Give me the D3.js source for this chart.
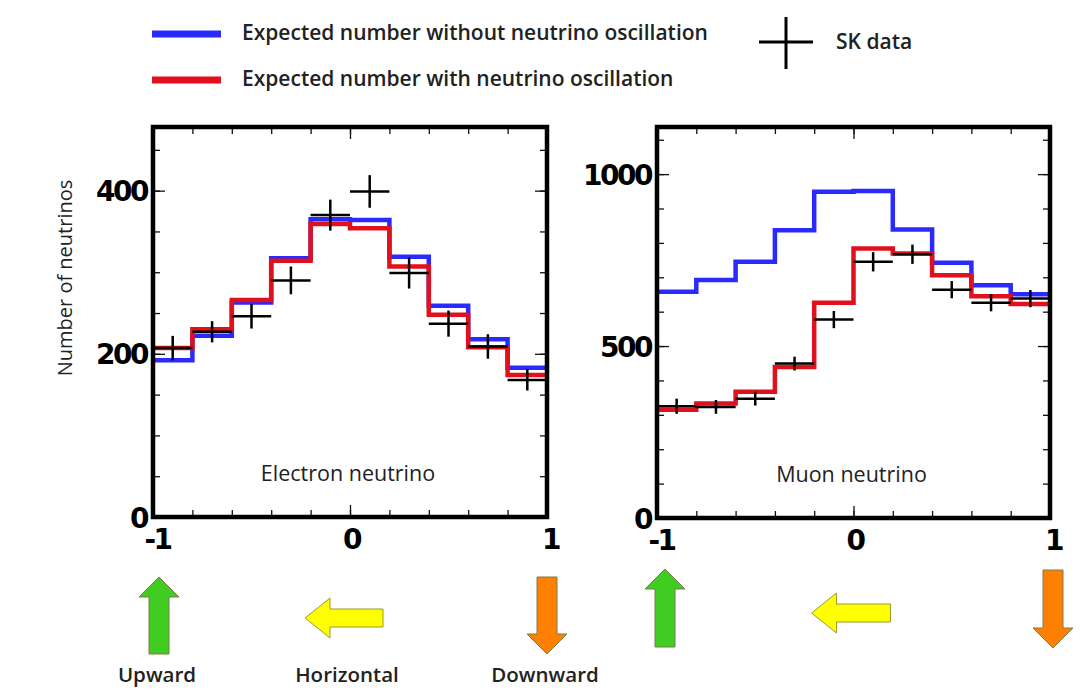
<!DOCTYPE html>
<html>
<head>
<meta charset="utf-8">
<script src="https://cdn.jsdelivr.net/npm/d3@7/dist/d3.min.js"></script>
<style>
  body { margin: 0; background: #fff; }
  svg { display: block; }
  .lbl { font-family: "Open Sans", "Noto Sans", sans-serif; fill: #222; }
  .tk text { font-family: "DejaVu Sans", sans-serif; font-weight: bold; font-size: 28px; letter-spacing: -2.5px; fill: #000; }
</style>
</head>
<body>
<svg id="chart" width="1086" height="689"></svg>
<script>
// bin edges of cos(zenith angle)
const edges = [-1, -0.8, -0.6, -0.4, -0.2, 0, 0.2, 0.4, 0.6, 0.8, 1]

// electron neutrino
const eNoOsc = [192, 222, 263, 317, 365, 364, 319, 259, 218, 183]
const eOsc   = [207, 230, 266, 314, 359, 354, 307, 248, 208, 174]
const eData  = [207, 227, 246, 290, 370, 399, 299, 237, 209, 168]
const eErr   = [15, 13, 15, 17, 19, 20, 19, 16, 15, 13]

// muon neutrino
const mNoOsc = [658, 692, 745, 837, 949, 951, 839, 742, 677, 651]
const mOsc   = [315, 333, 367, 439, 626, 784, 769, 706, 645, 622]
const mData  = [325, 323, 347, 449, 577, 745, 767, 664, 626, 638]
const mErr   = [22, 20, 20, 20, 25, 28, 28, 25, 25, 25]

const xTicks = [-1, 0, 1]
const eTicks = [0, 200, 400]
const mTicks = [0, 500, 1000]

const blue = '#2a2aff', red = '#e0101c'

const svg = d3.select('#chart')

function panel(o){
    let x = d3.scaleLinear().domain([-1, 1]).range([o.left, o.right])
    let y = d3.scaleLinear().domain([0, o.ymax]).range([o.bottom, o.top])
    let g = svg.append('g')

    // minor ticks, all four sides
    let minorY = d3.range(0, o.ymax, o.minor)
    let minorX = d3.range(-1, 1.01, 0.2)
    g.append('g').attr('transform', 'translate(' + o.left + ',0)')
        .call(d3.axisLeft(y).tickValues(minorY).tickSize(-7).tickFormat(''))
    g.append('g').attr('transform', 'translate(' + o.right + ',0)')
        .call(d3.axisRight(y).tickValues(minorY).tickSize(-7).tickFormat(''))
    g.append('g').attr('transform', 'translate(0,' + o.top + ')')
        .call(d3.axisTop(x).tickValues(minorX).tickSize(-7).tickFormat(''))
    g.append('g').attr('transform', 'translate(0,' + o.bottom + ')')
        .call(d3.axisBottom(x).tickValues(minorX).tickSize(-7).tickFormat(''))

    // major ticks with labels
    g.append('g').attr('class', 'tk').attr('transform', 'translate(' + o.left + ',0)')
        .call(d3.axisLeft(y).tickValues(o.ticks).tickSize(-12).tickPadding(6).tickFormat(d => String(d)))
        .selectAll('.tick text').attr('dy', '0.36em')
    g.append('g').attr('transform', 'translate(' + o.right + ',0)')
        .call(d3.axisRight(y).tickValues(o.ticks).tickSize(-12).tickFormat(''))
    g.append('g').attr('class', 'tk').attr('transform', 'translate(0,' + o.bottom + ')')
        .call(d3.axisBottom(x).tickValues(xTicks).tickSize(-12).tickPadding(12).tickFormat(d => String(d)))
        .selectAll('.tick text').attr('dy', '0.71em').attr('dx', d => d < 0 ? 4 : d > 0 ? 3 : 1)
    g.append('g').attr('transform', 'translate(0,' + o.top + ')')
        .call(d3.axisTop(x).tickValues(xTicks).tickSize(-12).tickFormat(''))

    g.selectAll('.domain').remove()
    g.selectAll('.tick line').attr('stroke', '#111').attr('stroke-width', 1.3)

    // step histograms
    let step = d3.line().x(d => x(d[0])).y(d => y(d[1])).curve(d3.curveStepAfter)
    const pts = vals => edges.map((e, i) => [e, vals[Math.min(i, vals.length - 1)]])
    g.append('path').attr('d', step(pts(o.noOsc)))
        .attr('fill', 'none').attr('stroke', blue).attr('stroke-width', 4.5)
    g.append('path').attr('d', step(pts(o.osc)))
        .attr('fill', 'none').attr('stroke', red).attr('stroke-width', 4.5)

    // SK data crosses
    let pt = g.selectAll('.pt').data(o.data).enter().append('g')
    pt.append('line')
        .attr('x1', (d, i) => x(edges[i])).attr('x2', (d, i) => x(edges[i + 1]))
        .attr('y1', d => y(d)).attr('y2', d => y(d))
        .attr('stroke', '#000').attr('stroke-width', 2.5)
    pt.append('line')
        .attr('x1', (d, i) => x((edges[i] + edges[i + 1]) / 2)).attr('x2', (d, i) => x((edges[i] + edges[i + 1]) / 2))
        .attr('y1', (d, i) => y(d + o.err[i])).attr('y2', (d, i) => y(d - o.err[i]))
        .attr('stroke', '#000').attr('stroke-width', 2.5)

    // frame
    g.append('rect')
        .attr('x', o.left).attr('y', o.top)
        .attr('width', o.right - o.left).attr('height', o.bottom - o.top)
        .attr('fill', 'none').attr('stroke', '#000').attr('stroke-width', 4.5)

    g.append('text').attr('class', 'lbl')
        .attr('x', x(0) - 2).attr('y', o.bottom - 36)
        .attr('text-anchor', 'middle').attr('font-size', 21.5)
        .text(o.name)

    return x
}

const xE = panel({left: 153, right: 547, top: 127, bottom: 517, ymax: 478, minor: 50,
    ticks: eTicks, noOsc: eNoOsc, osc: eOsc, data: eData, err: eErr, name: 'Electron neutrino'})
const xM = panel({left: 657, right: 1050, top: 127, bottom: 518, ymax: 1137, minor: 100,
    ticks: mTicks, noOsc: mNoOsc, osc: mOsc, data: mData, err: mErr, name: 'Muon neutrino'})

svg.append('text').attr('class', 'lbl')
    .attr('transform', 'translate(72,278) rotate(-90)')
    .attr('text-anchor', 'middle').attr('font-size', 20)
    .text('Number of neutrinos')

// legend
const legend = [
    {label: 'Expected number without neutrino oscillation', color: blue, y: 34},
    {label: 'Expected number with neutrino oscillation', color: red, y: 80}
]
legend.forEach(l => {
    svg.append('line').attr('x1', 152).attr('x2', 221).attr('y1', l.y).attr('y2', l.y)
        .attr('stroke', l.color).attr('stroke-width', 7)
    svg.append('text').attr('class', 'lbl')
        .attr('x', 242).attr('y', l.y + 6)
        .attr('font-size', 21).attr('font-weight', 600)
        .text(l.label)
})
svg.append('line').attr('x1', 759).attr('x2', 813).attr('y1', 42).attr('y2', 42)
    .attr('stroke', '#000').attr('stroke-width', 3)
svg.append('line').attr('x1', 786).attr('x2', 786).attr('y1', 17).attr('y2', 69)
    .attr('stroke', '#000').attr('stroke-width', 3)
svg.append('text').attr('class', 'lbl')
    .attr('x', 836).attr('y', 49)
    .attr('font-size', 21).attr('font-weight', 600)
    .text('SK data')

// direction arrows
function vArrow(cx, y0, y1, fill){
    // y0 = tail, y1 = tip
    let s = Math.sign(y1 - y0), hw = 20, sw = 10, hl = 20
    let hb = y1 - s * hl
    let p = [[cx - sw, y0], [cx + sw, y0], [cx + sw, hb], [cx + hw, hb], [cx, y1],
             [cx - hw, hb], [cx - sw, hb]]
    svg.append('path').attr('d', 'M' + p.join('L') + 'Z')
        .attr('fill', fill).attr('stroke', '#7a7a50').attr('stroke-width', 1)
}
function hArrow(x0, x1, cy, fill){
    let hw = 20, sw = 9, hl = 25
    let hb = x1 + hl
    let p = [[x0, cy - sw], [x0, cy + sw], [hb, cy + sw], [hb, cy + hw], [x1, cy],
             [hb, cy - hw], [hb, cy - sw]]
    svg.append('path').attr('d', 'M' + p.join('L') + 'Z')
        .attr('fill', fill).attr('stroke', '#9a9a30').attr('stroke-width', 1)
}
const green = '#40cc20', yellow = '#ffff00', orange = '#ff8000'

vArrow(xE(-1) + 6, 654, 577, green)
hArrow(xE(0) + 33, xE(0) - 45, 618, yellow)
vArrow(xE(1), 577, 654, orange)
vArrow(xM(-1) + 8, 647, 569, green)
hArrow(xM(0) + 37, xM(0) - 42, 613, yellow)
vArrow(xM(1) + 3, 570, 648, orange)

const dirs = [
    {label: 'Upward', x: 157},
    {label: 'Horizontal', x: 347},
    {label: 'Downward', x: 545}
]
svg.selectAll('.dir').data(dirs).enter().append('text')
    .attr('class', 'lbl')
    .attr('x', d => d.x).attr('y', 682)
    .attr('text-anchor', 'middle').attr('font-size', 20.5).attr('font-weight', 600)
    .text(d => d.label)
</script>
</body>
</html>
